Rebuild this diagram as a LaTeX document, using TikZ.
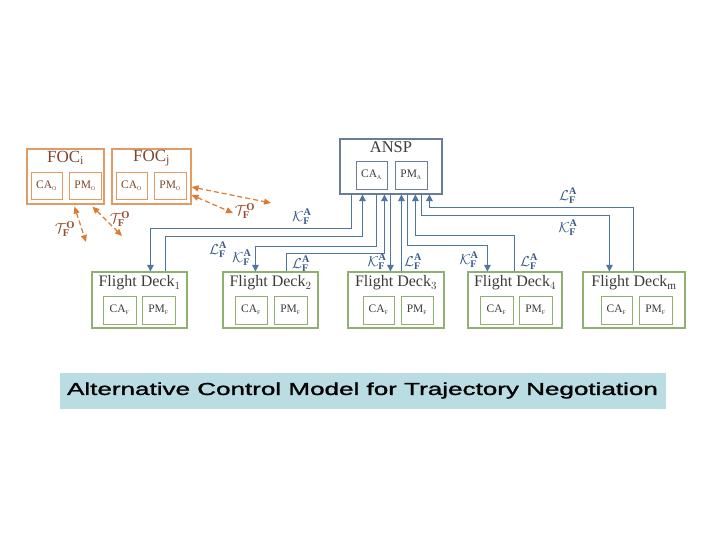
\documentclass[tikz,border=0pt]{standalone}
\usepackage{fontspec}
\setmainfont{Liberation Serif}
\newfontfamily\capfont[FakeBold=1.2]{Liberation Sans}
\usetikzlibrary{arrows.meta,calc}
\definecolor{bline}{RGB}{79,118,160}
\definecolor{blabel}{RGB}{55,88,135}
\definecolor{anspc}{RGB}{105,125,150}
\definecolor{focc}{RGB}{226,155,100}
\definecolor{foct}{RGB}{125,70,45}
\definecolor{oarr}{RGB}{224,122,46}
\definecolor{olabel}{RGB}{150,80,45}
\definecolor{fdc}{RGB}{143,176,112}
\definecolor{txt}{RGB}{60,60,60}
\definecolor{capbg}{RGB}{185,221,227}
\tikzset{
  bigbox/.style={draw, line width=1.1pt, inner sep=0pt},
  subbox/.style={draw, line width=0.9pt, inner sep=0pt, minimum height=28,
     font=\fontsize{11.5}{13}\selectfont, text=txt},
  ttl/.style={inner sep=0pt, font=\fontsize{16}{19}\selectfont, text=txt},
  bconn/.style={draw=bline, line width=1pt, -{Triangle[length=6.5pt,width=6.5pt]}},
  oconn/.style={draw=oarr, line width=1.2pt, dash pattern=on 5pt off 3pt,
     {Triangle[length=7pt,width=6pt]}-{Triangle[length=7pt,width=6pt]}},
  blab/.style={inner sep=0pt, text=blabel, font=\fontsize{14.5}{16}\selectfont},
  olab/.style={inner sep=0pt, text=olabel, font=\fontsize{15}{17}\selectfont}
}
\newcommand{\Klab}{$\mathcal{K}^{\mathbf{A}}_{\mathbf{F}}$}
\newcommand{\Llab}{$\mathcal{L}^{\mathbf{A}}_{\mathbf{F}}$}
\newcommand{\Tlab}{$\mathcal{T}^{\mathbf{O}}_{\mathbf{F}}$}
\begin{document}
\begin{tikzpicture}[x=1pt,y=-1pt]
\useasboundingbox (0,0) rectangle (720,540);
\fill[white] (0,0) rectangle (720,540);

% ANSP
\node[bigbox, draw=anspc, minimum width=102, minimum height=55] (ansp) at (391,166.5) {};
\node[ttl, font=\fontsize{16.5}{19}\selectfont] (anspt) at (391,147) {ANSP};
\node[subbox, draw=anspc, minimum width=31] (ansca) at (371.5,175) {CA$_{\scriptscriptstyle\mathrm{A}}$};
\node[subbox, draw=anspc, minimum width=32] (anspm) at (411,175) {PM$_{\scriptscriptstyle\mathrm{A}}$};

% FOCs
\node[bigbox, draw=focc, minimum width=77, minimum height=55] (foci) at (65.5,176.5) {};
\node[ttl, text=foct, font=\fontsize{17}{19}\selectfont] (focit) at (65.5,158) {FOC$_{\mathrm{i}}$};
\node[subbox, draw=focc, text=foct, minimum width=31, minimum height=27] (focica) at (46.5,185.5) {CA$_{\scriptscriptstyle\mathrm{O}}$};
\node[subbox, draw=focc, text=foct, minimum width=32, minimum height=27] (focipm) at (85,185.5) {PM$_{\scriptscriptstyle\mathrm{O}}$};

\node[bigbox, draw=focc, minimum width=79, minimum height=55] (focj) at (151.5,176.5) {};
\node[ttl, text=foct, font=\fontsize{17}{19}\selectfont] (focjt) at (151.5,158) {FOC$_{\mathrm{j}}$};
\node[subbox, draw=focc, text=foct, minimum width=31, minimum height=27] (focjca) at (131.5,185.5) {CA$_{\scriptscriptstyle\mathrm{O}}$};
\node[subbox, draw=focc, text=foct, minimum width=32, minimum height=27] (focjpm) at (170,185.5) {PM$_{\scriptscriptstyle\mathrm{O}}$};

% Flight decks
\node[bigbox, draw=fdc, minimum width=95, minimum height=56] (fd1) at (139.5,300) {};
\node[ttl] (fd1t) at (139.5,283) {Flight Deck$_1$};
\node[subbox, draw=fdc, minimum width=33] (fd1ca) at (119.5,310) {CA$_{\scriptscriptstyle\mathrm{F}}$};
\node[subbox, draw=fdc, minimum width=33] (fd1pm) at (158.5,310) {PM$_{\scriptscriptstyle\mathrm{F}}$};

\node[bigbox, draw=fdc, minimum width=95, minimum height=56] (fd2) at (270.5,300) {};
\node[ttl] (fd2t) at (270.5,283) {Flight Deck$_2$};
\node[subbox, draw=fdc, minimum width=32] (fd2ca) at (251,310) {CA$_{\scriptscriptstyle\mathrm{F}}$};
\node[subbox, draw=fdc, minimum width=33] (fd2pm) at (290.5,310) {PM$_{\scriptscriptstyle\mathrm{F}}$};

\node[bigbox, draw=fdc, minimum width=96, minimum height=56] (fd3) at (396,300) {};
\node[ttl] (fd3t) at (396,283) {Flight Deck$_3$};
\node[subbox, draw=fdc, minimum width=31] (fd3ca) at (378.5,310) {CA$_{\scriptscriptstyle\mathrm{F}}$};
\node[subbox, draw=fdc, minimum width=32] (fd3pm) at (417,310) {PM$_{\scriptscriptstyle\mathrm{F}}$};

\node[bigbox, draw=fdc, minimum width=94, minimum height=56] (fd4) at (515,300) {};
\node[ttl] (fd4t) at (515,283) {Flight Deck$_4$};
\node[subbox, draw=fdc, minimum width=33] (fd4ca) at (496.5,310) {CA$_{\scriptscriptstyle\mathrm{F}}$};
\node[subbox, draw=fdc, minimum width=33] (fd4pm) at (535.5,310) {PM$_{\scriptscriptstyle\mathrm{F}}$};

\node[bigbox, draw=fdc, minimum width=102, minimum height=56] (fdm) at (634,300) {};
\node[ttl] (fdmt) at (634,283) {Flight Deck$_{\mathrm{m}}$};
\node[subbox, draw=fdc, minimum width=31] (fdmca) at (616.5,310) {CA$_{\scriptscriptstyle\mathrm{F}}$};
\node[subbox, draw=fdc, minimum width=33] (fdmpm) at (655.5,310) {PM$_{\scriptscriptstyle\mathrm{F}}$};

% blue connectors
\draw[bconn] ($(ansp.south west)+(12,0)$) -- ++(0,34) -| ($(fd1.north west)+(59,0)$);
\draw[bconn] ($(fd1.north west)+(74,0)$) -- ++(0,-35) -| ($(ansp.south west)+(23,0)$);
\draw[bconn] ($(ansp.south west)+(37,0)$) -- ++(0,52) -| ($(fd2.north west)+(33,0)$);
\draw[bconn] ($(fd2.north west)+(64,0)$) -- ++(0,-18) -| ($(ansp.south west)+(45,0)$);
\draw[bconn] ($(ansp.south west)+(51,0)$) -- ($(fd3.north west)+(43,0)$);
\draw[bconn] ($(fd3.north west)+(54,0)$) -- ($(ansp.south west)+(62,0)$);
\draw[bconn] ($(ansp.south west)+(68,0)$) -- ++(0,51) -| ($(fd4.north west)+(20,0)$);
\draw[bconn] ($(fd4.north west)+(47,0)$) -- ++(0,-36) -| ($(ansp.south west)+(76,0)$);
\draw[bconn] ($(ansp.south west)+(82,0)$) -- ++(0,21) -| ($(fdm.north west)+(27,0)$);
\draw[bconn] ($(fdm.north west)+(51,0)$) -- ++(0,-64) -| ($(ansp.south west)+(90,0)$);

% blue labels
\node[blab] (k1) at (302,217) {\Klab};
\node[blab] (l1) at (218,250) {\Llab};
\node[blab] (k2) at (242,258) {\Klab};
\node[blab] (l2) at (301,264) {\Llab};
\node[blab] (k3) at (377,262) {\Klab};
\node[blab] (l3) at (413,262) {\Llab};
\node[blab] (k4) at (469,260) {\Klab};
\node[blab] (l4) at (529,262) {\Llab};
\node[blab] (lm) at (568,196) {\Llab};
\node[blab] (km) at (568,228) {\Klab};

% orange connectors
\coordinate (oa1) at (271,203);
\coordinate (oa2) at (233,213);
\coordinate (oa3) at (86,242);
\coordinate (oa4) at (122,236);
\draw[oconn] ($(focj.east)+(0,10.5)$) -- (oa1);
\draw[oconn] ($(focj.east)+(0,18.5)$) -- (oa2);
\draw[oconn] ($(foci.south west)+(48,2)$) -- (oa3);
\draw[oconn] ($(foci.south west)+(66,2)$) -- (oa4);
\node[olab] (t1) at (245,211) {\Tlab};
\node[olab] (t2) at (65,229) {\Tlab};
\node[olab] (t3) at (120,219) {\Tlab};

% caption
\node[fill=capbg, minimum width=606, minimum height=36, inner sep=0pt] (cap) at (363,390.5) {};
\node[inner sep=0pt, font=\capfont\fontsize{17.3}{20}\selectfont] (capt) at (362.5,390.5)
  {\scalebox{1.505}[1]{Alternative Control Model for Trajectory Negotiation}};
\end{tikzpicture}
\end{document}
